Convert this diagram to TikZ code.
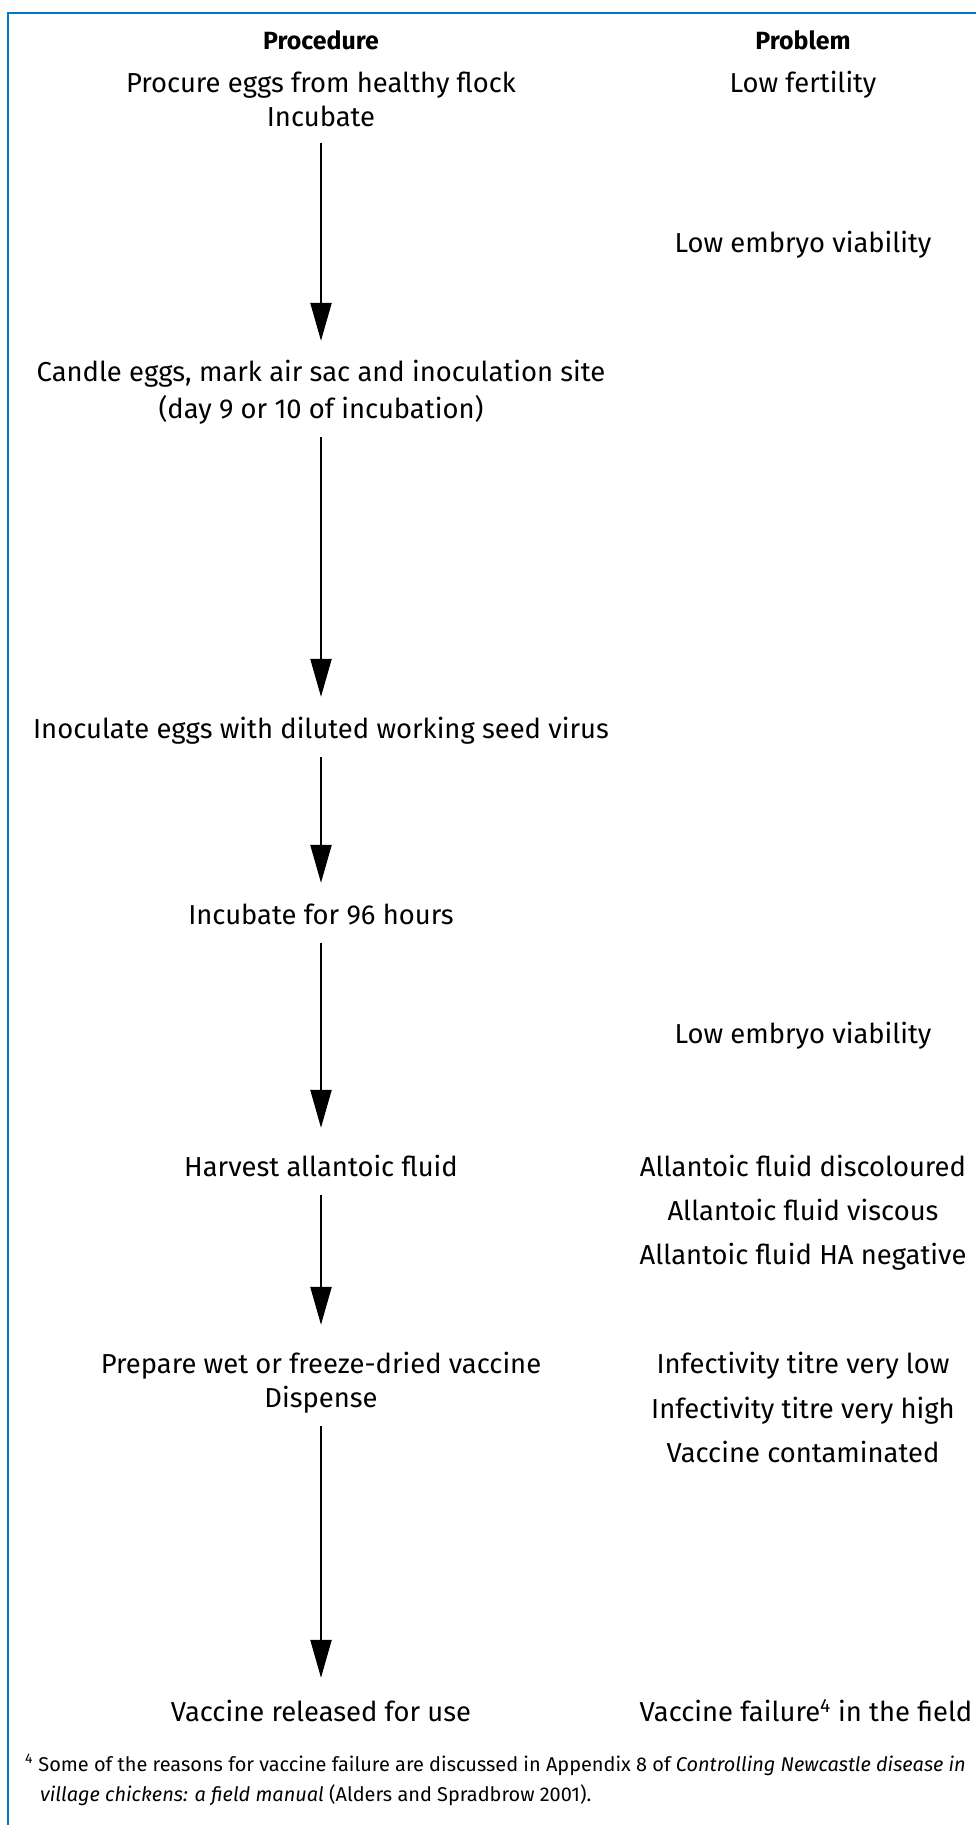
\documentclass[tikz,border=0pt]{standalone}
\usepackage{fontspec}
\setmainfont{Fira Sans}
\usetikzlibrary{arrows.meta}
\definecolor{frameblue}{RGB}{0,120,200}
\begin{document}
\begin{tikzpicture}[x=1bp,y=-1bp,
  txt/.style={anchor=base,inner sep=0pt,text height=20bp,text depth=6bp,font=\fontsize{27.5}{33}\selectfont},
  hdr/.style={txt,font=\fontsize{25}{30}\selectfont\bfseries},
  foot/.style={anchor=base west,inner sep=0pt,font=\fontsize{20}{24}\selectfont},
  flow/.style={line width=2.4bp,-{Triangle[length=38bp,width=21bp]}},
  frame/.style={draw=frameblue,line width=2.6bp}]
\useasboundingbox (0,0) rectangle (975,1825);
\draw[frame] (8,1826) -- (8,13) -- (976,13);
% headers
\node[hdr] (hproc) at (321,49) {Procedure};
\node[hdr] (hprob) at (803,49) {Problem};
% procedure column
\node[txt] (procure) at (321,92) {Procure eggs from healthy flock};
\node[txt] (inc1) at (321,126) {Incubate};
\node[txt] (candle) at (321,381) {Candle eggs, mark air sac and inoculation site};
\node[txt] (day) at (321,418) {(day 9 or 10 of incubation)};
\node[txt] (inoc) at (321,738) {Inoculate eggs with diluted working seed virus};
\node[txt] (inc2) at (321,924) {Incubate for 96 hours};
\node[txt] (harv) at (321,1176) {Harvest allantoic fluid};
\node[txt] (prep) at (321,1373) {Prepare wet or freeze-dried vaccine};
\node[txt] (disp) at (321,1407) {Dispense};
\node[txt] (rel) at (321,1721) {Vaccine released for use};
% problem column
\node[txt] (p1) at (803,92) {Low fertility};
\node[txt] (p2) at (803,252) {Low embryo viability};
\node[txt] (p3) at (803,1043) {Low embryo viability};
\node[txt] (p4) at (803,1176) {Allantoic fluid discoloured};
\node[txt] (p5) at (803,1220) {Allantoic fluid viscous};
\node[txt] (p6) at (803,1264) {Allantoic fluid HA negative};
\node[txt] (p7) at (803,1373) {Infectivity titre very low};
\node[txt] (p8) at (803,1418) {Infectivity titre very high};
\node[txt] (p9) at (803,1462) {Vaccine contaminated};
\node[txt] (p10) at (806,1721) {Vaccine failure\textsuperscript{4} in the field};
% arrows
\draw[flow,shorten <=11bp,shorten >=20bp] (inc1.south) -- (candle.north);
\draw[flow,shorten <=13bp,shorten >=21bp] (day.south) -- (inoc.north);
\draw[flow,shorten <=13bp,shorten >=21bp] (inoc.south) -- (inc2.north);
\draw[flow,shorten <=13bp,shorten >=28bp] (inc2.south) -- (harv.north);
\draw[flow,shorten <=13bp,shorten >=28bp] (harv.south) -- (prep.north);
\draw[flow,shorten <=13bp,shorten >=23bp] (disp.south) -- (rel.north);
% footnote
\node[foot] (fn1) at (25,1771) {\textsuperscript{4} Some of the reasons for vaccine failure are discussed in Appendix 8 of \textit{Controlling Newcastle disease in}};
\node[foot] (fn2) at (40,1801) {\textit{village chickens: a field manual} (Alders and Spradbrow 2001).};
\end{tikzpicture}
\end{document}
